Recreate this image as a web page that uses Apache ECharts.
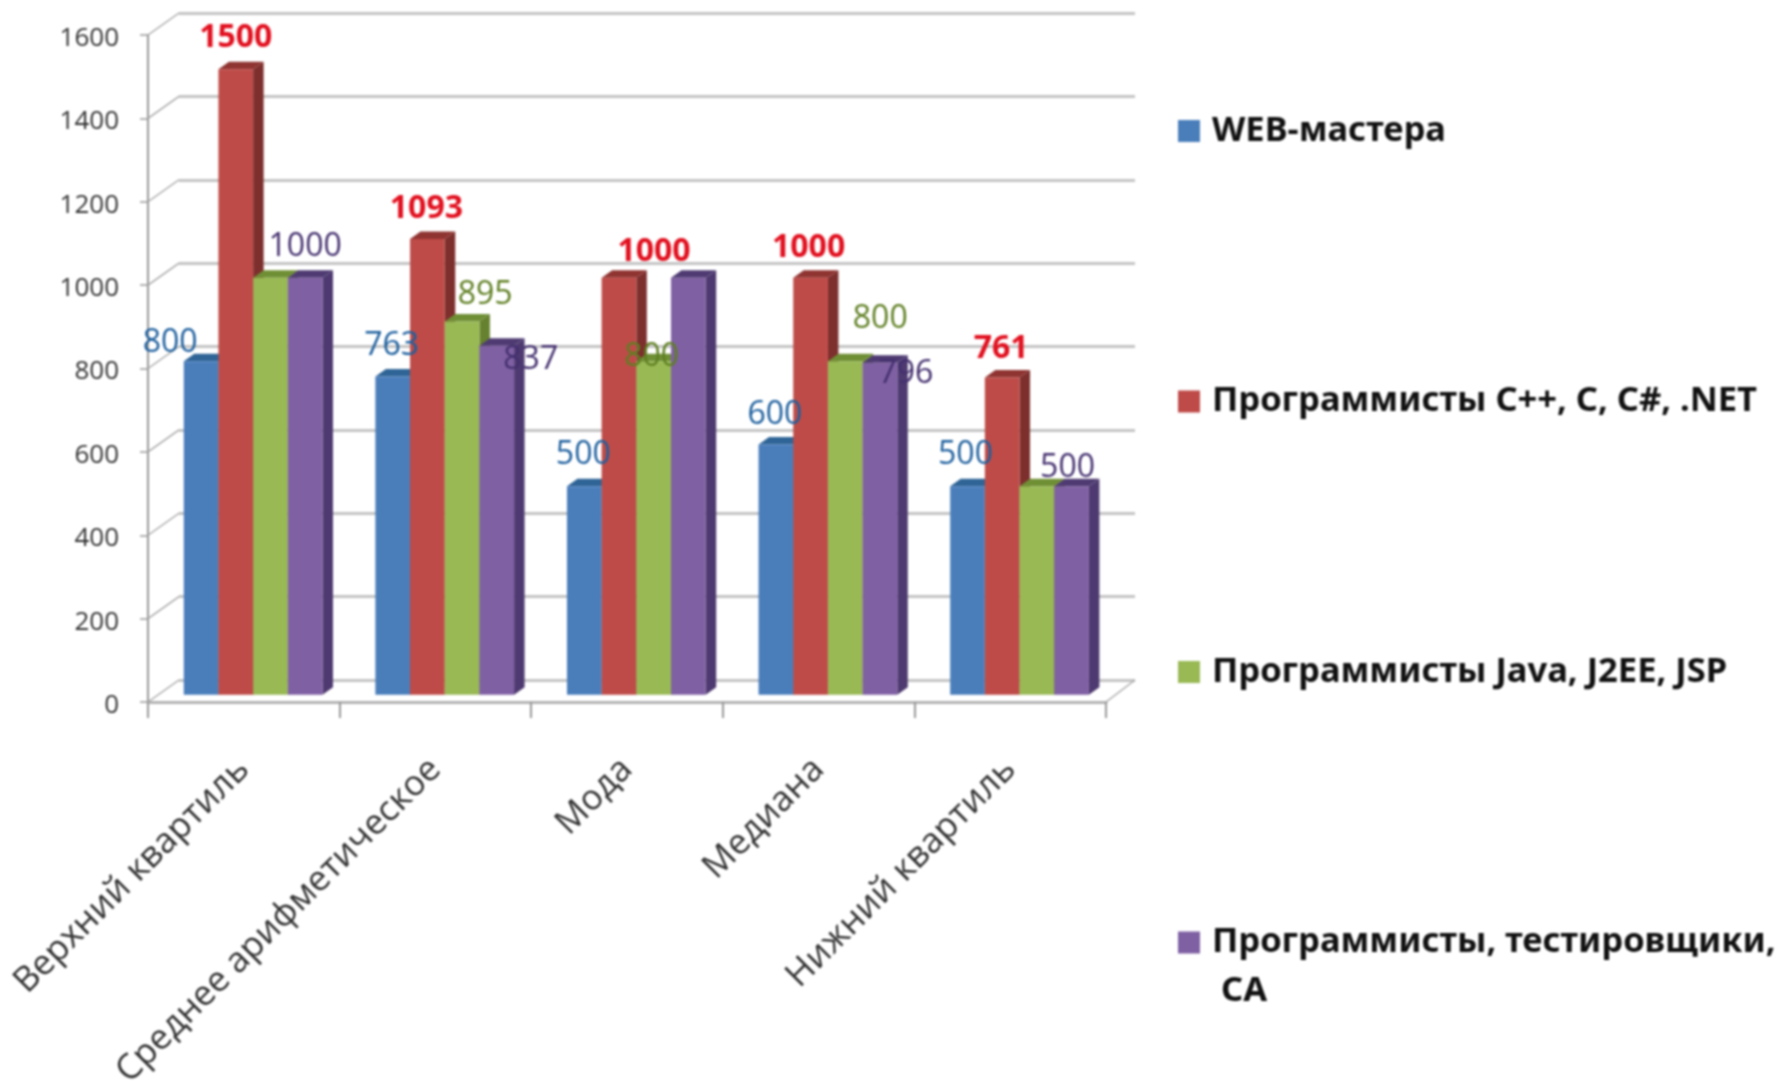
<!DOCTYPE html>
<html><head><meta charset="utf-8">
<style>html,body{margin:0;padding:0;background:#fff}#c{width:1776px;height:1090px;filter:blur(0.9px)}</style>
<script src="https://cdn.jsdelivr.net/npm/echarts@6/dist/echarts.min.js"></script>
</head><body><div id="c"></div>
<script>
const categories = ['Верхний квартиль','Среднее арифметическое','Мода','Медиана','Нижний квартиль'];
const yTicks = [0,200,400,600,800,1000,1200,1400,1600];
const web  = [800,763,500,600,500];
const cpp  = [1500,1093,1000,1000,761];
const java = [1000,895,800,800,500];
const qa   = [1000,837,1000,796,500];
const names = ['WEB-мастера','Программисты C++, C, C#, .NET','Программисты Java, J2EE, JSP','Программисты, тестировщики, СА'];

// label placement relative to each bar's top (null = label not visible in the picture)
const webLabelOff  = [[-31,-18],[-1,-31],[-1,-31],[-1,-30],[-2,-31]];
const cppLabelOff  = [[0,-31],[-1,-30],[35,-26],[-2,-30],[-1,-29]];
const javaLabelOff = [null,[23,-27],[-2,-4],[35,-42],null];
const qaLabelOff   = [[0,-31],[34,14],null,[26,11],[-4,-18]];

const styles = [
  {face:'#4a7ebb',side:'#2f5f94',top:'#2f6496',label:'#1d5f9e',off:webLabelOff,bold:false},
  {face:'#be4b48',side:'#7d2f2d',top:'#8f3431',label:'#e2101f',off:cppLabelOff,bold:true},
  {face:'#98b954',side:'#66812f',top:'#6f8f35',label:'#5f7f22',off:javaLabelOff,bold:false},
  {face:'#7f60a3',side:'#4e3a70',top:'#4f3b72',label:'#44306f',off:qaLabelOff,bold:false}
];
const depthX = 10.5, depthY = 7.5;   // bar depth
const floorX = 31, floorY = 22;      // wall depth

function barSeries(name, values, s, idx){
  return {
    type:'custom', name, xAxisIndex:0, yAxisIndex:0, z:5,
    itemStyle:{color:s.face},
    data: values.map((v,i)=>[i,v]),
    renderItem(params, api){
      const i = api.value(0), v = api.value(1);
      const band = api.size([1,0])[0];
      const w = band*0.181;
      const top = api.coord([i,v]);
      const base = api.coord([i,0]);
      const x = top[0] + floorX/3 - 1 + (idx-2)*w;
      const y0 = base[1] - floorY/3;
      const y1 = top[1] - floorY/3;
      const kids = [
        {type:'polygon',shape:{points:[[x+w,y0],[x+w+depthX,y0-depthY],[x+w+depthX,y1-depthY],[x+w,y1]]},style:{fill:s.side},z2:1},
        {type:'polygon',shape:{points:[[x,y1],[x+depthX,y1-depthY],[x+w+depthX,y1-depthY],[x+w,y1]]},style:{fill:s.top},z2:1},
        {type:'rect',shape:{x:x,y:y1,width:w,height:y0-y1},style:{fill:s.face},z2:2}
      ];
      const off = s.off[i];
      if(off){
        kids.push({type:'text',z2:100,style:{
          x:x+w/2+off[0], y:y1+off[1], text:String(v), fill:s.label,
          font:(s.bold?'bold ':'')+'32px "Open Sans"', align:'center', verticalAlign:'middle'
        }});
      }
      return {type:'group',children:kids};
    }
  };
}

const wallSeries = {
  type:'custom', xAxisIndex:0, yAxisIndex:0, z:1, silent:true,
  data: yTicks.map(t=>[0,t]),
  renderItem(params, api){
    const c = api.coord([0,api.value(1)]);
    const x = params.coordSys.x, r = x+params.coordSys.width;
    const kids = [{type:'line',shape:{x1:x,y1:c[1],x2:x+floorX,y2:c[1]-floorY},style:{stroke:'#a8a8a8',lineWidth:1.5}}];
    if(api.value(1)===0){
      kids.push({type:'line',shape:{x1:r,y1:c[1],x2:r+floorX-2,y2:c[1]-floorY},style:{stroke:'#a8a8a8',lineWidth:1.5}});
    }
    return {type:'group',children:kids};
  }
};

const chart = echarts.init(document.getElementById('c'),null,{width:1776,height:1090});
chart.setOption({
  backgroundColor:'#fff',
  animation:false,
  grid:[
    {left:148,top:35,width:958,height:667,outerBoundsMode:'none'},
    {left:179,top:13,width:956,height:667,outerBoundsMode:'none'}
  ],
  xAxis:[
    {type:'category',gridIndex:0,data:categories,
     axisLine:{lineStyle:{color:'#b4b4b4',width:3}},
     axisTick:{show:true,alignWithLabel:false,length:16,lineStyle:{color:'#999',width:2}},
     axisLabel:{rotate:45,margin:62,interval:0,fontFamily:'Open Sans',fontSize:35,color:'#333'}},
    {type:'category',gridIndex:1,data:categories,show:false}
  ],
  yAxis:[
    {type:'value',gridIndex:0,min:0,max:1600,interval:200,
     axisLine:{show:true,lineStyle:{color:'#999',width:2}},
     axisTick:{show:true,length:8,lineStyle:{color:'#999',width:1.5}},
     splitLine:{show:false},
     axisLabel:{margin:29,formatter:v=>'{a|'+v+'}',
       rich:{a:{fontFamily:'Open Sans',fontSize:26,color:'#333',padding:[7,0,0,0]}}}},
    {type:'value',gridIndex:1,min:0,max:1600,interval:200,
     axisLine:{show:false},axisTick:{show:false},axisLabel:{show:false},
     splitLine:{show:true,lineStyle:{color:'#c4c4c4',width:3}}}
  ],
  legend:{
    orient:'vertical',left:1173,top:106,itemWidth:22,itemHeight:22,itemGap:230.5,
    icon:'rect',selectedMode:false,data:names,
    formatter:n=>n===names[3]?'Программисты, тестировщики,':n,
    textStyle:{fontFamily:'Noto Sans',fontWeight:'bold',fontSize:34.5,color:'#111',lineHeight:40,padding:[0,0,0,7]}
  },
  graphic:[{type:'text',left:1221,top:974,style:{text:'СА',font:'bold 34.5px "Noto Sans"',fill:'#111'}}],
  series:[
    wallSeries,
    barSeries(names[0],web,styles[0],0),
    barSeries(names[1],cpp,styles[1],1),
    barSeries(names[2],java,styles[2],2),
    barSeries(names[3],qa,styles[3],3)
  ]
});
</script></body></html>
